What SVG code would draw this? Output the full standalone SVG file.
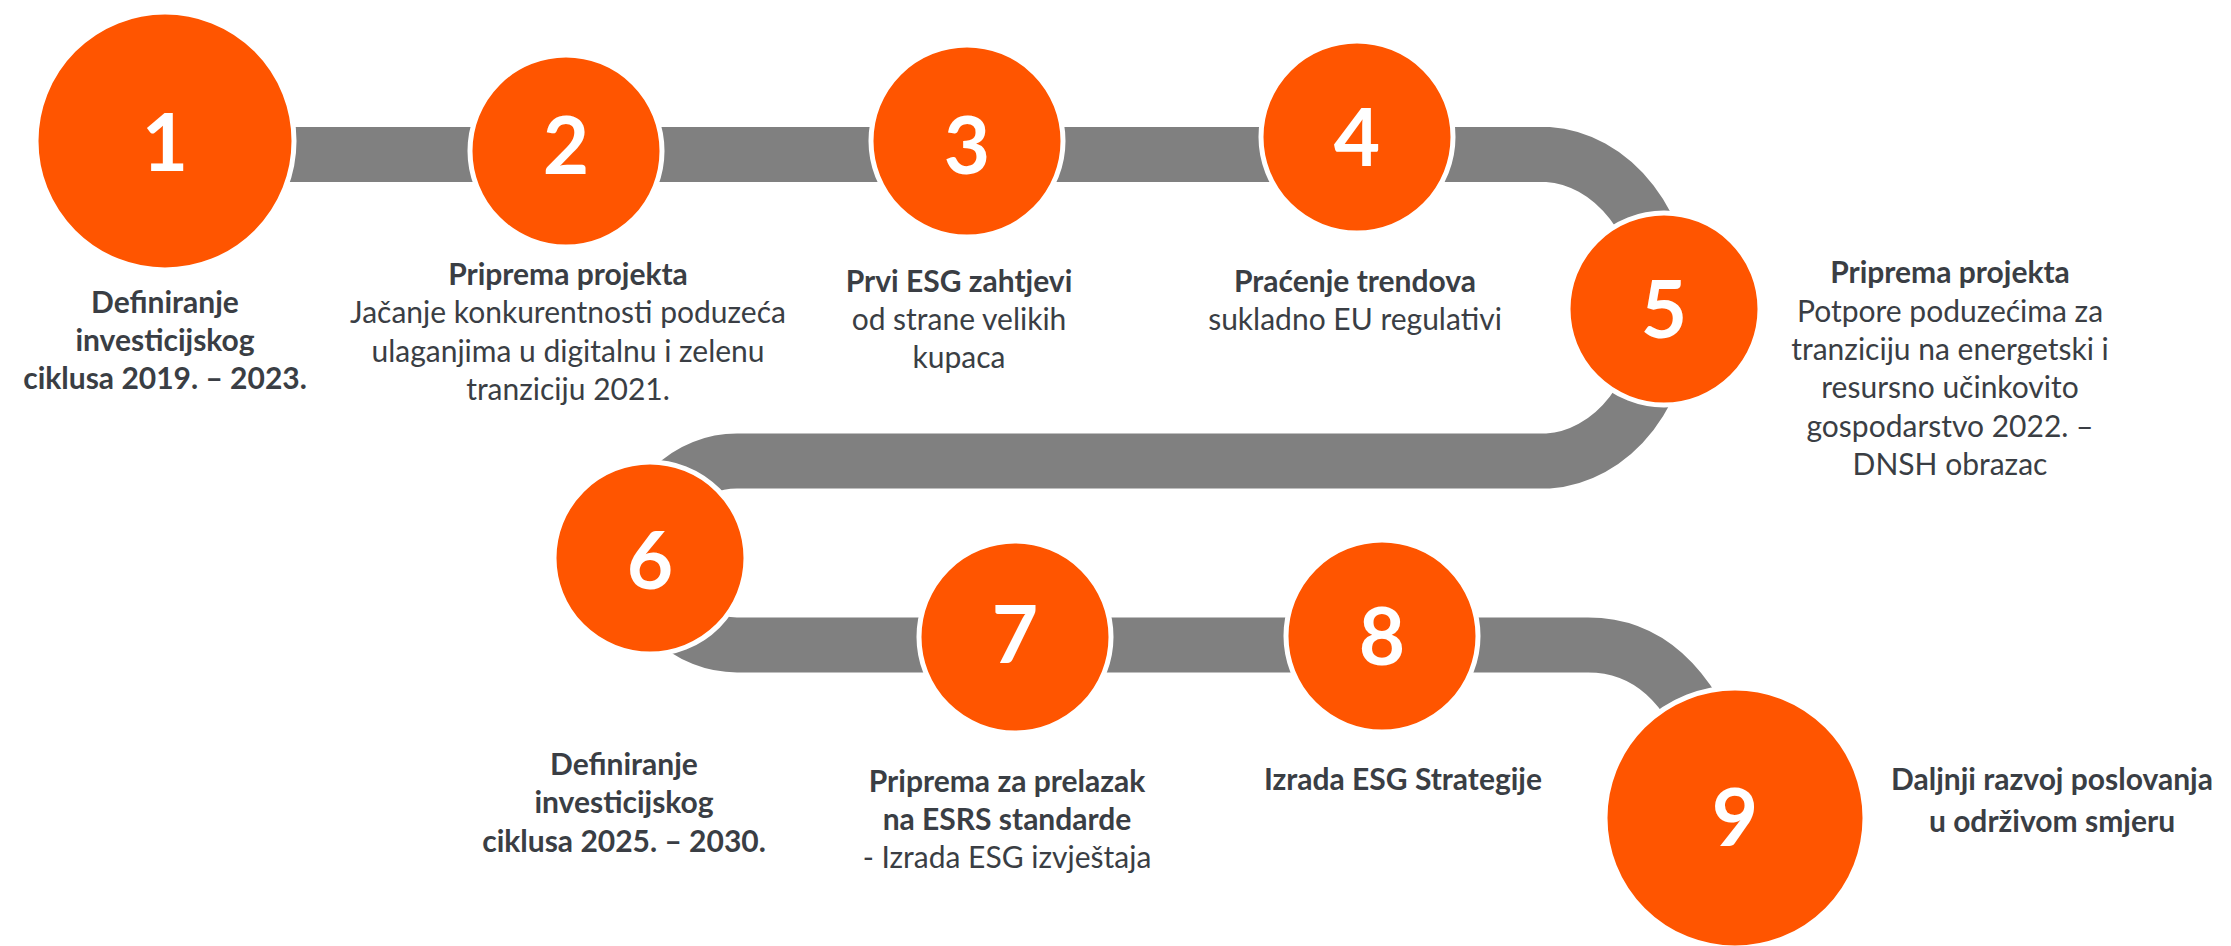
<svg xmlns="http://www.w3.org/2000/svg" width="2231" height="946" viewBox="0 0 2231 946">
<style>
.node circle{fill:#FF5500;stroke:#FFFFFF;stroke-width:5}
.num{font-family:Lato,"Liberation Sans",sans-serif;font-weight:700;font-size:80px;fill:#FFFFFF;text-anchor:middle}
.t{font-family:Lato,"Liberation Sans",sans-serif;font-size:30px;fill:#3A3E44;text-anchor:middle}
.b{font-weight:700}
.l{font-weight:400}
.band{fill:none;stroke:#808080;stroke-width:55;stroke-linecap:butt}
</style>
<rect width="2231" height="946" fill="#FFFFFF"/>
<g id="connectors">
<path class="band" d="M165,154.5 H1548 A125,153.5 0 0 1 1548,461 H737 A92,92 0 0 0 737,645 H1588 C1645,645 1690,680 1722,770"/>
</g>
<g id="node1" class="node">
<circle cx="165" cy="141" r="129"/>
<text class="num" x="165" y="171">1</text>
<text class="t b" x="165" y="313">Definiranje</text>
<text class="t b" x="165" y="351">investicijskog</text>
<text class="t b" x="165" y="389">ciklusa 2019. – 2023.</text>
</g>
<g id="node2" class="node">
<circle cx="566" cy="151" r="96"/>
<text class="num" x="566" y="174">2</text>
<text class="t b" x="568" y="285">Priprema projekta</text>
<text class="t l" x="568" y="323">Jačanje konkurentnosti poduzeća</text>
<text class="t l" x="568" y="362">ulaganjima u digitalnu i zelenu</text>
<text class="t l" x="568" y="400">tranziciju 2021.</text>
</g>
<g id="node3" class="node">
<circle cx="967" cy="141" r="96"/>
<text class="num" x="967" y="174">3</text>
<text class="t b" x="959" y="292">Prvi ESG zahtjevi</text>
<text class="t l" x="959" y="330">od strane velikih</text>
<text class="t l" x="959" y="368">kupaca</text>
</g>
<g id="node4" class="node">
<circle cx="1357" cy="137" r="96"/>
<text class="num" x="1357" y="166">4</text>
<text class="t b" x="1355" y="292">Praćenje trendova</text>
<text class="t l" x="1355" y="330">sukladno EU regulativi</text>
</g>
<g id="node5" class="node">
<circle cx="1664" cy="309" r="96"/>
<text class="num" x="1664" y="338">5</text>
<text class="t b" x="1950" y="283">Priprema projekta</text>
<text class="t l" x="1950" y="322">Potpore poduzećima za</text>
<text class="t l" x="1950" y="360">tranziciju na energetski i</text>
<text class="t l" x="1950" y="398">resursno učinkovito</text>
<text class="t l" x="1950" y="437">gospodarstvo 2022. –</text>
<text class="t l" x="1950" y="475">DNSH obrazac</text>
</g>
<g id="node6" class="node">
<circle cx="650" cy="558" r="96"/>
<text class="num" x="650" y="589">6</text>
<text class="t b" x="624" y="775">Definiranje</text>
<text class="t b" x="624" y="813">investicijskog</text>
<text class="t b" x="624" y="852">ciklusa 2025. – 2030.</text>
</g>
<g id="node7" class="node">
<circle cx="1015" cy="637" r="96"/>
<text class="num" x="1015" y="663">7</text>
<text class="t b" x="1007" y="792">Priprema za prelazak</text>
<text class="t b" x="1007" y="830">na ESRS standarde</text>
<text class="t l" x="1007" y="868">- Izrada ESG izvještaja</text>
</g>
<g id="node8" class="node">
<circle cx="1382" cy="636" r="96"/>
<text class="num" x="1382" y="665">8</text>
<text class="t b" x="1403" y="790">Izrada ESG Strategije</text>
</g>
<g id="node9" class="node">
<circle cx="1735" cy="818" r="130"/>
<text class="num" x="1735" y="846">9</text>
<text class="t b" x="2052" y="790">Daljnji razvoj poslovanja</text>
<text class="t b" x="2052" y="832">u održivom smjeru</text>
</g>
</svg>
